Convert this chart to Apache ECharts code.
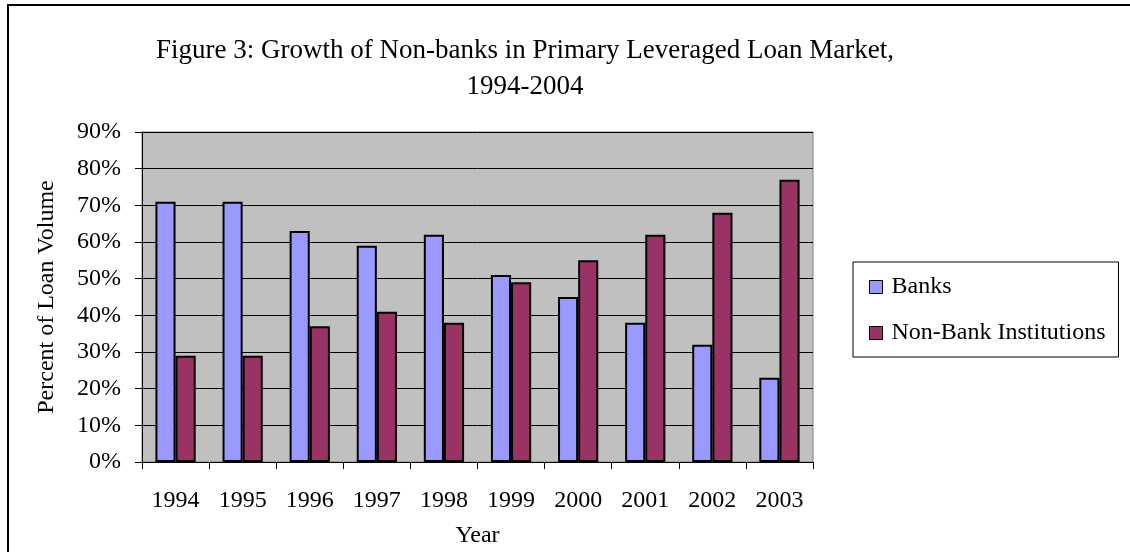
<!DOCTYPE html>
<html>
<head>
<meta charset="utf-8">
<script src="https://cdn.jsdelivr.net/npm/echarts@6/dist/echarts.min.js"></script>
<style>
html,body{margin:0;padding:0;background:#fff;}
#chart{width:1130px;height:552px;}
</style>
</head>
<body>
<div id="chart"></div>
<script>
const years = ['1994','1995','1996','1997','1998','1999','2000','2001','2002','2003'];
const banks = [71, 71, 63, 59, 62, 51, 45, 38, 32, 23];
const nonBanks = [29, 29, 37, 41, 38, 49, 55, 62, 68, 77];
const seriesNames = ['Banks', 'Non-Bank Institutions'];
const titleText = 'Figure 3: Growth of Non-banks in Primary Leveraged Loan Market,\n1994-2004';

const FONT = '"Liberation Serif", "Times New Roman", serif';
const chart = echarts.init(document.getElementById('chart'));
chart.setOption({
  animation: false,
  backgroundColor: '#fff',
  textStyle: { fontFamily: FONT, color: '#000' },
  graphic: [{
    type: 'rect', silent: true, z: 100,
    shape: { x: 8, y: 5, width: 1140, height: 560 },
    style: { fill: 'none', stroke: '#000', lineWidth: 2 }
  }],
  title: {
    text: titleText,
    left: 520, top: 28, textAlign: 'center',
    textStyle: { fontFamily: FONT, fontSize: 27, fontWeight: 'normal', color: '#000', lineHeight: 36 }
  },
  legend: {
    data: seriesNames,
    orient: 'vertical',
    left: 853, top: 262,
    padding: [12, 13, 11, 16],
    icon: 'rect',
    itemWidth: 13, itemHeight: 13, itemGap: 20,
    borderColor: '#000', borderWidth: 1, backgroundColor: '#fff',
    itemStyle: { borderColor: '#000', borderWidth: 1 },
    textStyle: { fontFamily: FONT, fontSize: 24, color: '#000', lineHeight: 26, padding: [0, 0, 0, 4] }
  },
  grid: {
    left: 142, right: 317, top: 132, bottom: 90,
    outerBoundsMode: 'none', containLabel: false,
    show: true, backgroundColor: '#c0c0c0', borderColor: '#808080', borderWidth: 1
  },
  xAxis: {
    type: 'category', data: years,
    name: 'Year', nameLocation: 'middle', nameGap: 62,
    nameTextStyle: { fontFamily: FONT, fontSize: 24, color: '#000' },
    axisLine: { lineStyle: { color: '#000', width: 1 } },
    axisTick: { show: true, length: 7, lineStyle: { color: '#000' } },
    axisLabel: { fontFamily: FONT, fontSize: 24, color: '#000', margin: 27 }
  },
  yAxis: {
    type: 'value', min: 0, max: 90, interval: 10,
    name: 'Percent of Loan Volume', nameLocation: 'middle', nameGap: 83, nameRotate: 90,
    nameTextStyle: { fontFamily: FONT, fontSize: 24, color: '#000' },
    axisLine: { show: true, lineStyle: { color: '#000', width: 1 } },
    axisTick: { show: true, length: 7, lineStyle: { color: '#000' } },
    axisLabel: { fontFamily: FONT, fontSize: 24, color: '#000', margin: 21, formatter: '{value}%' },
    splitLine: { show: true, lineStyle: { color: '#000', width: 1 } }
  },
  series: [
    {
      name: seriesNames[0], type: 'bar', data: banks,
      barGap: '0%', barCategoryGap: '40%',
      itemStyle: { color: '#9999ff', borderColor: '#000', borderWidth: 2 }
    },
    {
      name: seriesNames[1], type: 'bar', data: nonBanks,
      barGap: '0%', barCategoryGap: '40%',
      itemStyle: { color: '#993366', borderColor: '#000', borderWidth: 2 }
    }
  ]
});
</script>
</body>
</html>
